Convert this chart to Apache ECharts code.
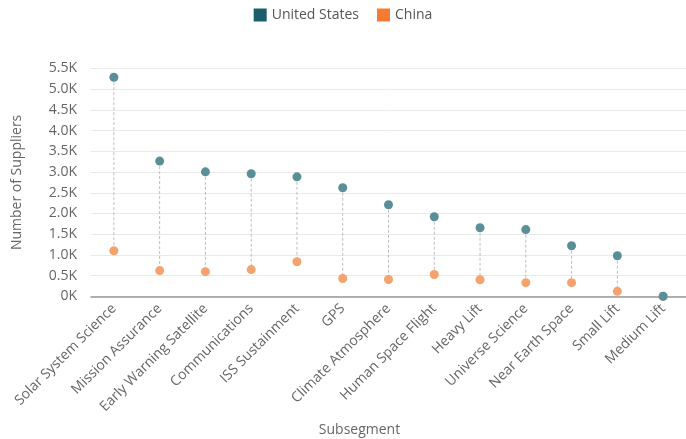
<!DOCTYPE html>
<html>
<head>
<meta charset="utf-8">
<script src="https://cdn.jsdelivr.net/npm/echarts@6/dist/echarts.min.js"></script>
<style>
html,body{margin:0;padding:0;background:#fff;}
#chart{width:686px;height:439px;}
</style>
</head>
<body>
<div id="chart"></div>
<script>
const categories = ["Solar System Science","Mission Assurance","Early Warning Satellite","Communications","ISS Sustainment","GPS","Climate Atmosphere","Human Space Flight","Heavy Lift","Universe Science","Near Earth Space","Small Lift","Medium Lift"];
const unitedStates = [5290, 3265, 3005, 2960, 2885, 2620, 2210, 1920, 1655, 1610, 1220, 980, 0];
const china = [1100, 620, 595, 645, 835, 430, 405, 525, 400, 330, 330, 120, 0];
const yTicks = [0, 500, 1000, 1500, 2000, 2500, 3000, 3500, 4000, 4500, 5000, 5500];

const FONT = '"Open Sans", sans-serif';
const TXT = '#666666';

const chart = echarts.init(document.getElementById('chart'));
chart.setOption({
  animation: false,
  textStyle: { fontFamily: FONT },
  legend: {
    top: 3,
    left: 'center',
    icon: 'rect',
    itemWidth: 13,
    itemHeight: 13,
    itemGap: 18,
    textStyle: { fontFamily: FONT, fontSize: 14, color: '#555' },
    data: [
      { name: 'United States', itemStyle: { color: '#1C5F6B' } },
      { name: 'China', itemStyle: { color: '#F47B2F' } }
    ]
  },
  grid: { left: 91, right: 0, top: 68.5, bottom: 142.7, containLabel: false, outerBoundsMode: 'none' },
  xAxis: {
    type: 'category',
    data: categories,
    name: 'Subsegment',
    nameLocation: 'middle',
    nameGap: 127,
    nameTextStyle: { fontFamily: FONT, fontSize: 14, color: TXT, padding: [0, 58, 0, 0] },
    axisLine: { lineStyle: { color: '#999', width: 1.5 } },
    axisTick: { show: false },
    axisLabel: { rotate: 45, interval: 0, margin: 10, fontFamily: FONT, fontSize: 14, color: TXT }
  },
  yAxis: {
    type: 'value',
    min: yTicks[0],
    max: yTicks[yTicks.length - 1],
    interval: 500,
    name: 'Number of Suppliers',
    nameLocation: 'middle',
    nameGap: 67,
    nameTextStyle: { fontFamily: FONT, fontSize: 14, color: TXT },
    axisLine: { show: false },
    axisTick: { show: false },
    splitLine: { lineStyle: { color: '#E9E9E9' } },
    axisLabel: {
      margin: 14,
      fontFamily: FONT, fontSize: 14, color: TXT,
      formatter: v => v === 0 ? '0K' : (v / 1000).toFixed(1) + 'K'
    }
  },
  series: [
    {
      type: 'custom',
      name: 'connector',
      silent: true,
      data: categories.map((c, i) => [i, unitedStates[i], china[i]]),
      renderItem: function (params, api) {
        const p1 = api.coord([api.value(0), api.value(1)]);
        const p2 = api.coord([api.value(0), api.value(2)]);
        return {
          type: 'line',
          shape: { x1: p1[0], y1: p1[1], x2: p2[0], y2: p2[1] },
          style: { stroke: '#BDBDBD', lineWidth: 1, lineDash: [3, 2] }
        };
      },
      z: 1
    },
    {
      type: 'scatter',
      name: 'United States',
      data: unitedStates,
      symbolSize: 9,
      itemStyle: { color: '#5B8F98', opacity: 1 },
      z: 3
    },
    {
      type: 'scatter',
      name: 'China',
      data: china,
      symbolSize: 9,
      itemStyle: { color: '#F4A26E', opacity: 1 },
      z: 2
    }
  ]
});
</script>
</body>
</html>
